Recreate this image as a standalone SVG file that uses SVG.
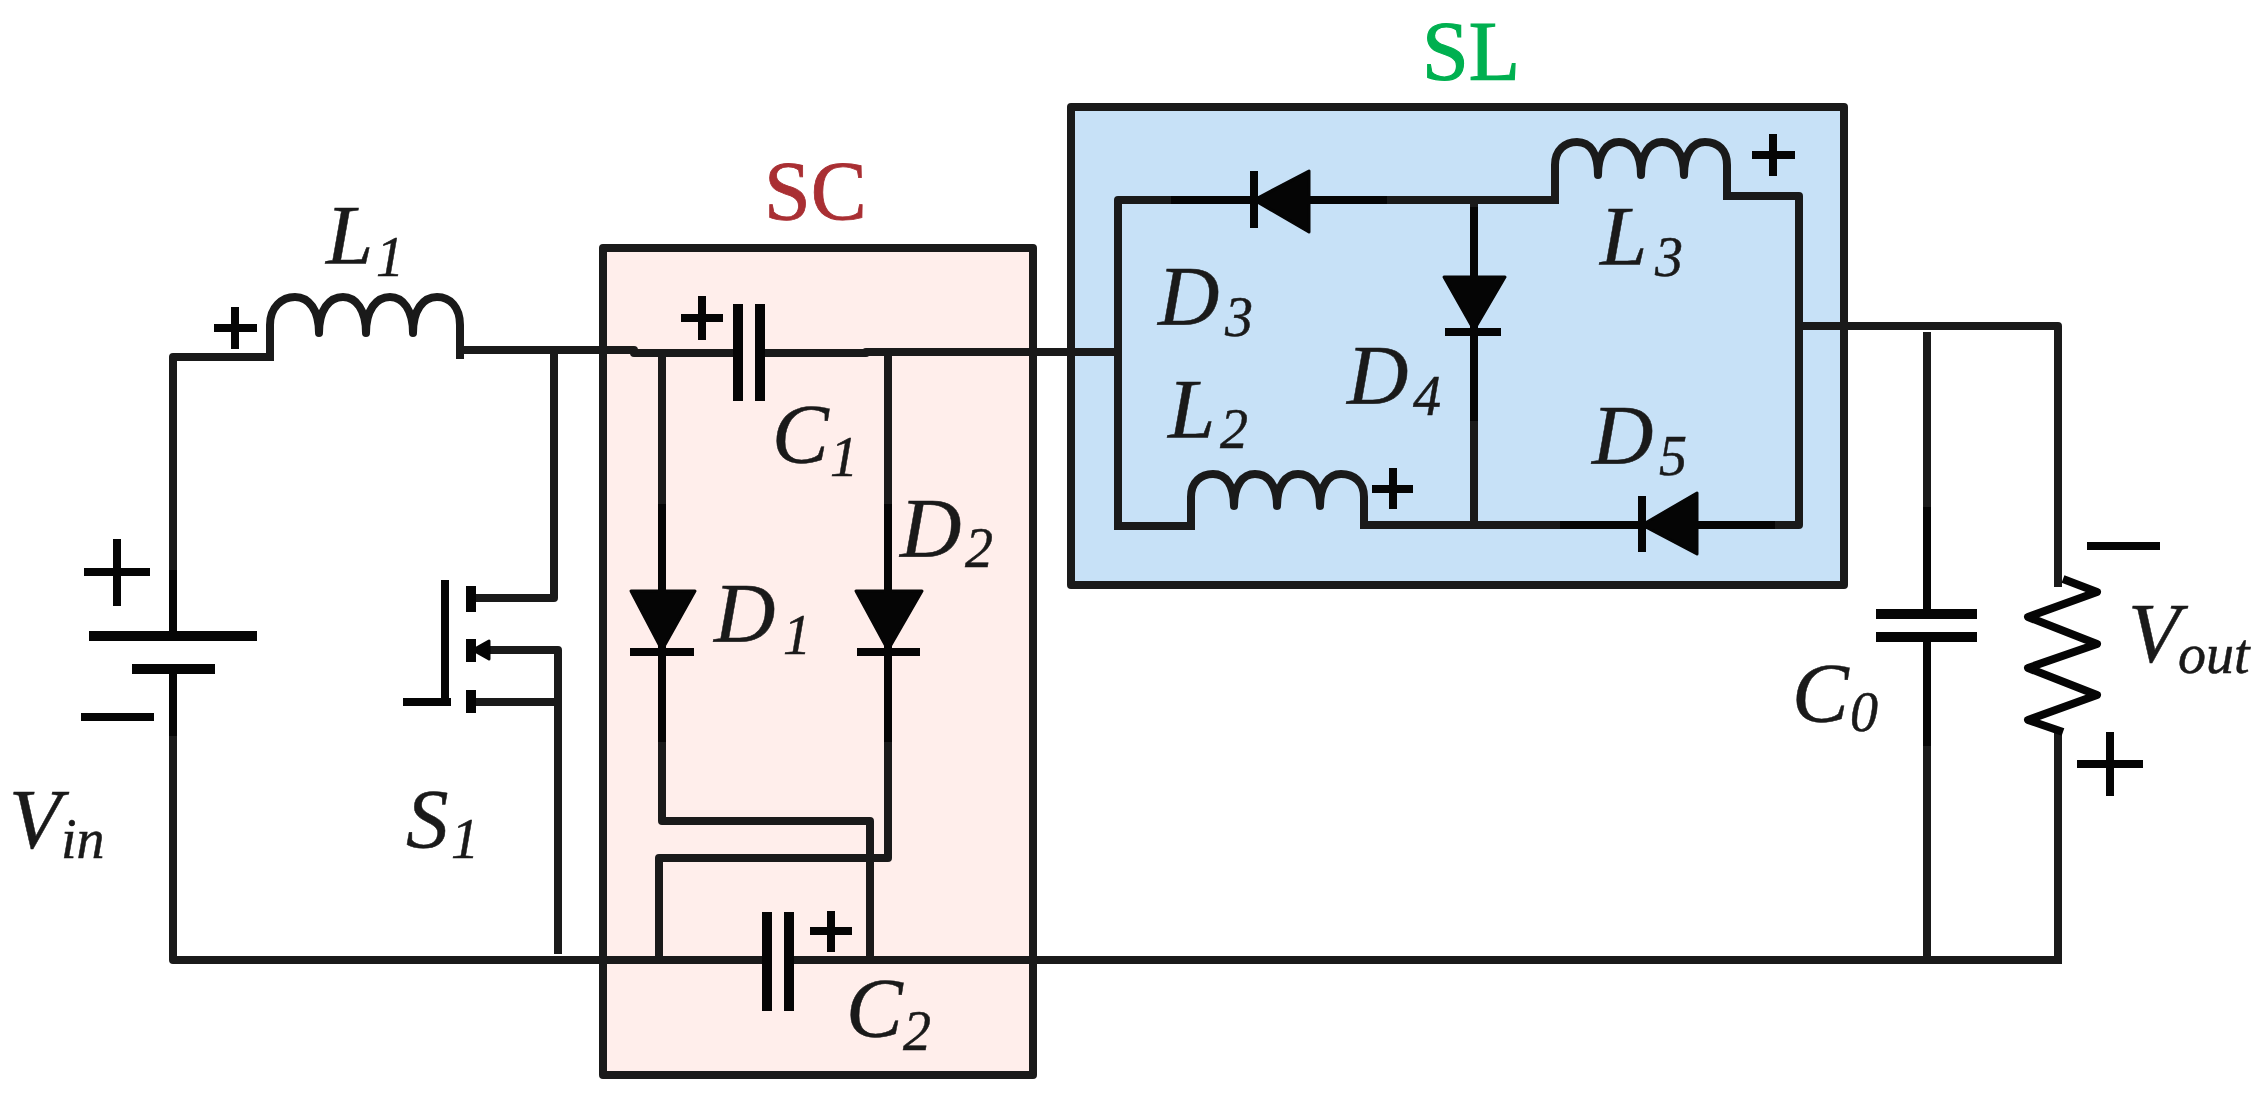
<svg xmlns="http://www.w3.org/2000/svg" width="2260" height="1104" viewBox="0 0 2260 1104">
<style>
.w{fill:none;stroke:#1a1a1a;stroke-width:8;stroke-linecap:square;stroke-linejoin:round}
.k{fill:none;stroke:#050505;stroke-width:8;stroke-linecap:butt;stroke-linejoin:round}
.p{fill:none;stroke:#050505;stroke-width:10;stroke-linecap:butt}
.f{fill:#050505;stroke:#050505;stroke-width:3;stroke-linejoin:round}
.box{stroke:#1a1a1a;stroke-width:8;stroke-linejoin:round}
text{font-family:"Liberation Serif","Times New Roman",serif;fill:#1a1a1a}
.m{font-style:italic;font-size:85px;stroke:#1a1a1a;stroke-width:.5}
.s{font-style:italic;font-size:56px;stroke:#1a1a1a;stroke-width:.5}
.t{font-size:84px}
</style>
<g id="sc-box"><rect class="box" x="603" y="248" width="430" height="827" fill="#ffeeeb"/><text class="t" x="764" y="220" style="fill:#a92f33;stroke:#a92f33;stroke-width:.8">SC</text></g>
<g id="sl-box"><rect class="box" x="1071" y="107" width="773" height="478" fill="#c7e1f7"/><text class="t" x="1422" y="80" style="fill:#00b050;stroke:#00b050;stroke-width:1.2">SL</text></g>
<g id="connectors">
<path class="w" d="M173 570V357H270"/>
<path class="w" d="M173 736V960H659"/>
<path class="w" d="M460 350H634V353H738"/>
<path class="w" d="M760 353H866V352H1118"/>
<path class="w" d="M554 350V598H473"/>
<path class="w" d="M489 650H558V950"/>
<path class="w" d="M473 702H558"/>
<path class="w" d="M662 353V591M662 652V821H870V960"/>
<path class="w" d="M888 352V591M888 652V858H659V960"/>
<path class="w" d="M659 960H767M789 960H2058"/>
<path class="w" d="M1118 526V200H1254M1309 200H1555"/>
<path class="w" d="M1118 526H1191"/>
<path class="w" d="M1727 196H1799V525H1697M1642 525H1364"/>
<path class="w" d="M1474 200V276M1474 332V519"/>
<path class="w" d="M1799 326H2058V583"/>
<path class="w" d="M2058 735V960"/>
<path class="w" d="M1927 336V614M1927 637V960"/>
</g>
<g id="vin">
<path class="k" d="M173 570V636M173 669V736"/>
<path class="p" d="M89 636H257M132 669H215"/>
<path class="k" d="M84 572H150M117 539V606M81 717H154"/>
<text class="m" x="9" y="848">V</text><text class="s" x="61" y="858">in</text>
</g>
<g id="l1">
<path class="w" style="stroke-width:8" d="M270 357V325C270 307 282 297 295 297C309 297 319 310 319 333C319 310 329 297 343 297C356 297 366 310 366 333C366 310 376 297 390 297C403 297 413 310 413 333C413 310 423 297 437 297C450 297 460 307 460 325V355"/>
<path class="k" d="M214 328H257M235 307V349"/>
<text class="m" x="326" y="264">L</text><text class="s" x="376" y="276">1</text>
</g>
<g id="s1">
<path class="k" d="M445 580V702M403 702H451"/>
<path class="p" d="M471 586V612M471 639V662M471 690V713"/>
<path class="f" d="M473 650L489 641V659Z"/>
<text class="m" x="406" y="848">S</text><text class="s" x="451" y="858">1</text>
</g>
<g id="c1">
<path class="p" d="M738 304V401M760 304V401"/>
<path class="k" d="M681 318H723M702 296V340"/>
<text class="m" x="772" y="463">C</text><text class="s" x="830" y="476">1</text>
</g>
<g id="d1">
<path class="f" d="M631 591H695L662 650Z"/>
<path class="k" d="M662 504V742M630 652H694"/>
<text class="m" x="714" y="642">D</text><text class="s" x="783" y="654">1</text>
</g>
<g id="d2">
<path class="f" d="M856 591H922L888 650Z"/>
<path class="k" d="M888 504V742M857 652H920"/>
<text class="m" x="900" y="557">D</text><text class="s" x="965" y="567">2</text>
</g>
<g id="c2">
<path class="p" d="M767 912V1011M789 912V1011"/>
<path class="k" d="M810 931H852M831 911V952"/>
<text class="m" x="846" y="1037">C</text><text class="s" x="903" y="1050">2</text>
</g>
<g id="d3">
<path class="f" d="M1254 200L1309 171V232Z"/>
<path class="k" d="M1254 171V228M1171 200H1387"/>
<text class="m" x="1158" y="325">D</text><text class="s" x="1225" y="336">3</text>
</g>
<g id="l3">
<path class="w" style="stroke-width:8" d="M1555 200V165C1555 150 1565 142 1577 142C1590 142 1598 153 1598 175C1598 153 1607 142 1619 142C1632 142 1641 153 1641 175C1641 153 1650 142 1662 142C1675 142 1684 153 1684 175C1684 153 1693 142 1705 142C1718 142 1727 150 1727 165V196"/>
<path class="k" d="M1752 155H1795M1773 134V176"/>
<text class="m" x="1600" y="265">L</text><text class="s" x="1655" y="276">3</text>
</g>
<g id="d4">
<path class="f" d="M1444 277H1505L1474 330Z"/>
<path class="k" d="M1445 332H1501M1474 207V421"/>
<text class="m" x="1347" y="404">D</text><text class="s" x="1413" y="415">4</text>
</g>
<g id="l2">
<path class="w" style="stroke-width:8" d="M1191 526V497C1191 482 1201 474 1213 474C1226 474 1234 485 1234 506C1234 485 1243 474 1255 474C1268 474 1277 485 1277 506C1277 485 1286 474 1298 474C1311 474 1320 485 1320 506C1320 485 1329 474 1341 474C1354 474 1364 482 1364 497V525"/>
<path class="k" d="M1372 489H1413M1393 468V509"/>
<text class="m" x="1168" y="438">L</text><text class="s" x="1220" y="448">2</text>
</g>
<g id="d5">
<path class="f" d="M1642 525L1697 493V554Z"/>
<path class="k" d="M1642 496V552M1560 525H1775"/>
<text class="m" x="1592" y="464">D</text><text class="s" x="1659" y="475">5</text>
</g>
<g id="c0">
<path class="k" d="M1927 507V614M1927 637V746"/>
<path class="p" d="M1876 614H1977M1876 637H1977"/>
<text class="m" x="1792" y="722">C</text><text class="s" x="1850" y="731">0</text>
</g>
<g id="rout">
<path class="k" d="M2063 579L2097 592L2028 617L2097 644L2028 668L2097 695L2028 720L2063 732"/>
<path class="k" d="M2087 546H2160M2077 764H2143M2110 732V796"/>
<text class="m" x="2128" y="662">V</text><text class="s" x="2178" y="673">out</text>
</g>
</svg>
